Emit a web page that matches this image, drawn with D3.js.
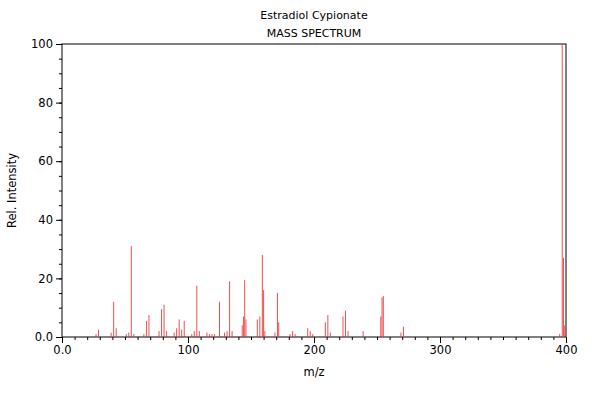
<!DOCTYPE html>
<html><head><meta charset="utf-8">
<script src="https://cdn.jsdelivr.net/npm/d3@7"></script>
<style>body{margin:0;background:#fff}text{font-family:"DejaVu Sans",sans-serif}</style>
</head><body><svg id="c" width="600" height="400"></svg>
<script>
// peaks
const mz = [27,29,39,41,43,51,53,55,57,65,67,69,77,79,81,83,89,91,93,95,97,103,105,107,109,115,117,119,121,125,129,131,133,135,143,144,145,146,155,157,159,160,161,169,171,172,181,183,185,195,197,199,209,211,213,223,225,227,239,253,254,255,269,271,395,397,398,399];
const inten = [1,2.5,1.5,12,3,1,1.5,31,1,1,5.5,7.5,2,9.5,11,2,1.5,3,6,2.5,5.5,1,2,17.5,2,1.5,1,1,1,12,1.5,2,19,2,4,7,19.5,6,6,7,28,16,2,1.5,15,5,1,2,1,3,2,1,5,7.5,1.5,7,9,2,2,7,13.5,14,1.5,3.5,1,100,27,4];
const title = ['Estradiol Cypionate', 'MASS SPECTRUM'];

const svg = d3.select('#c');
const m = {l: 62, r: 34, t: 44, b: 63};
const W = 600, H = 400;
const x = d3.scaleLinear().domain([0, 400]).range([m.l, W - m.r]);
const y = d3.scaleLinear().domain([0, 100]).range([H - m.b, m.t]);
const fmt = (d, i) => i === 0 ? '0.0' : d;

// minor ticks
svg.append('g').attr('transform', `translate(0,${H - m.b})`)
  .call(d3.axisBottom(x).tickValues(d3.range(0, 401, 10)).tickSize(3).tickFormat(''));
svg.append('g').attr('transform', `translate(${m.l},0)`)
  .call(d3.axisLeft(y).tickValues(d3.range(0, 101, 5)).tickSize(3).tickFormat(''));

svg.append('g').attr('transform', `translate(0,${H - m.b})`)
  .call(d3.axisBottom(x).tickValues([0,100,200,300,400]).tickSize(6).tickFormat(fmt));
svg.append('g').attr('transform', `translate(${m.l},0)`)
  .call(d3.axisLeft(y).tickValues([0,20,40,60,80,100]).tickSize(6).tickFormat(fmt));
svg.selectAll('.domain').remove();
svg.selectAll('.tick text').attr('font-size', 11.5).attr('fill', '#000');
svg.append('rect').attr('x', m.l).attr('y', m.t).attr('width', x(400) - m.l).attr('height', y(0) - m.t)
  .attr('fill', 'none').attr('stroke', '#000');

svg.append('g').selectAll('line').data(mz).join('line')
  .attr('x1', d => x(d)).attr('x2', d => x(d))
  .attr('y1', y(0)).attr('y2', (d, i) => y(inten[i]))
  .attr('stroke', '#f03030').attr('stroke-width', 1).attr('opacity', 0.85);

svg.selectAll('.ttl').data(title).join('text')
  .attr('x', (m.l + x(400)) / 2).attr('y', (d, i) => 19 + i * 18)
  .attr('text-anchor', 'middle').attr('font-size', 11).text(d => d);
svg.append('text').attr('x', (m.l + x(400)) / 2).attr('y', 376)
  .attr('text-anchor', 'middle').attr('font-size', 11.5).text('m/z');
svg.append('text').attr('transform', `translate(16,${(m.t + y(0)) / 2}) rotate(-90)`)
  .attr('text-anchor', 'middle').attr('font-size', 11.5).text('Rel. Intensity');
</script></body></html>
